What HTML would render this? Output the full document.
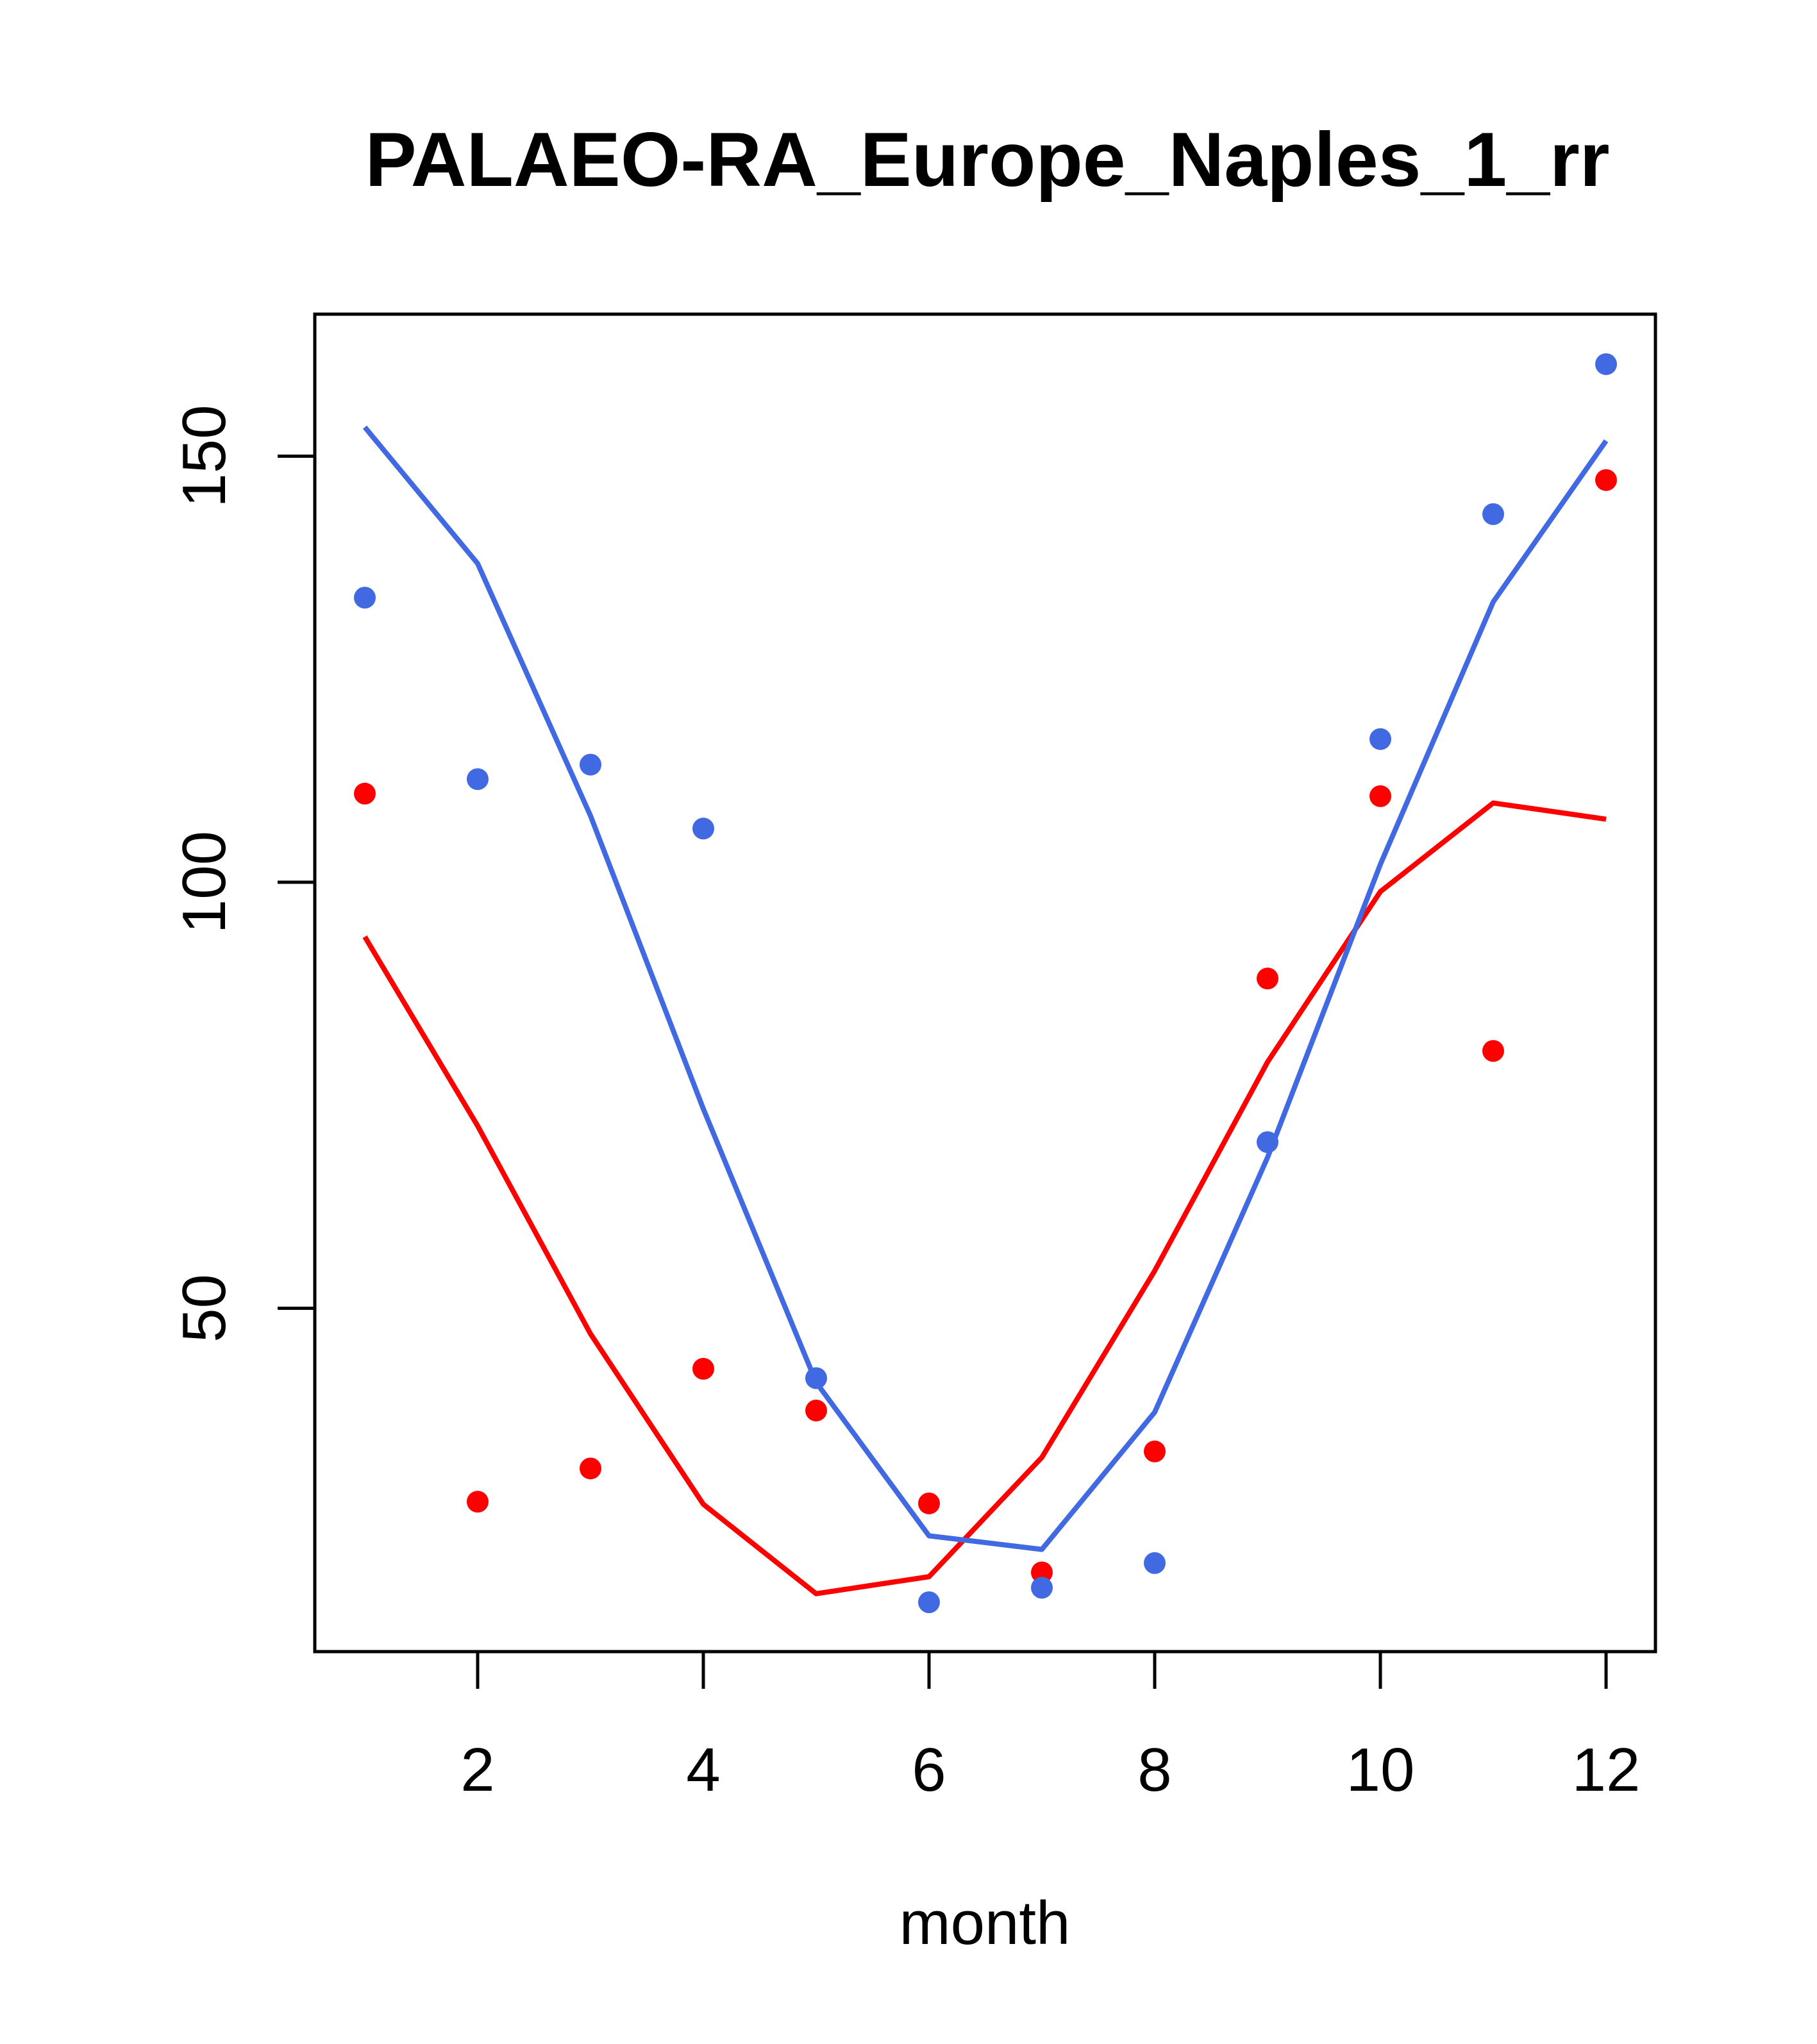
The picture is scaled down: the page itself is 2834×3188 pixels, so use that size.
<!DOCTYPE html>
<html><head><meta charset="utf-8"><style>body{margin:0;background:#fff}svg{display:block}text{font-family:"Liberation Sans",sans-serif}</style></head>
<body>
<svg id="chart" width="2834" height="3188" xmlns="http://www.w3.org/2000/svg">
<rect width="2834" height="3188" fill="#fff"/>
<text x="1540" y="290" font-size="120" font-weight="bold" text-anchor="middle" textLength="1941" lengthAdjust="spacingAndGlyphs">PALAEO-RA_Europe_Naples_1_rr</text>
<g id="marks"></g>
<rect x="491" y="490" width="2091" height="2086" fill="none" stroke="#000" stroke-width="5"/>
<text x="1536" y="3032" font-size="96" text-anchor="middle">month</text>
</svg>
<script>
const months = [1,2,3,4,5,6,7,8,9,10,11,12];
const bluePoints = [133.4,112.1,113.8,106.3,41.8,15.5,17.2,20.1,69.5,116.8,143.2,160.8];
const redPoints = [110.4,27.3,31.2,42.9,38.0,27.1,19.0,33.2,88.7,110.1,80.2,147.2];
const blueLine = [153.4,137.4,107.8,73.4,41.3,23.3,21.7,37.8,67.7,102.1,132.9,151.8];
const redLine = [93.6,71.4,47.0,27.0,16.5,18.5,32.5,54.4,78.9,98.9,109.3,107.4];
const xTicks = [2,4,6,8,10,12];
const yTicks = [50,100,150];

const NS = "http://www.w3.org/2000/svg";
function x(m){ return 745 + (m-2)*176.0; }
function y(v){ return 1376 - (v-100)*13.29; }
const svg = document.getElementById('chart');
const g = document.getElementById('marks');
function mk(tag, attrs, parent){ const e=document.createElementNS(NS,tag); for(const k in attrs) e.setAttribute(k,attrs[k]); (parent||g).appendChild(e); return e; }

function drawLine(vals, color, name){
  const p = mk('polyline',{points: vals.map((v,i)=>x(months[i])+','+y(v)).join(' '), fill:'none', stroke:color, 'stroke-width':8, 'stroke-linejoin':'round'});
  
  
}
function drawPts(vals, color, name){
  vals.forEach((v,i)=>{
    const c = mk('circle',{cx:x(months[i]), cy:y(v), r:17, fill:color});
    
    
  });
}
drawLine(redLine,'#ff0000','red-line');
drawLine(blueLine,'#4169e1','blue-line');
drawPts(redPoints,'#ff0000','red-point');
drawPts(bluePoints,'#4169e1','blue-point');

xTicks.forEach(t=>{
  const l = mk('line',{x1:x(t),x2:x(t),y1:2576,y2:2634,stroke:'#000','stroke-width':5},svg);
  
  
  const tx = mk('text',{x:x(t),y:2793,'font-size':96,'text-anchor':'middle'},svg);
  tx.textContent = t;
  
  
});
yTicks.forEach(t=>{
  const l = mk('line',{x1:433,x2:491,y1:y(t),y2:y(t),stroke:'#000','stroke-width':5},svg);
  
  
  const tx = mk('text',{x:0,y:0,'font-size':96,'text-anchor':'middle',transform:'translate(351,'+y(t)+') rotate(-90)'},svg);
  tx.textContent = t;
  
  
});
</script>
</body></html>
